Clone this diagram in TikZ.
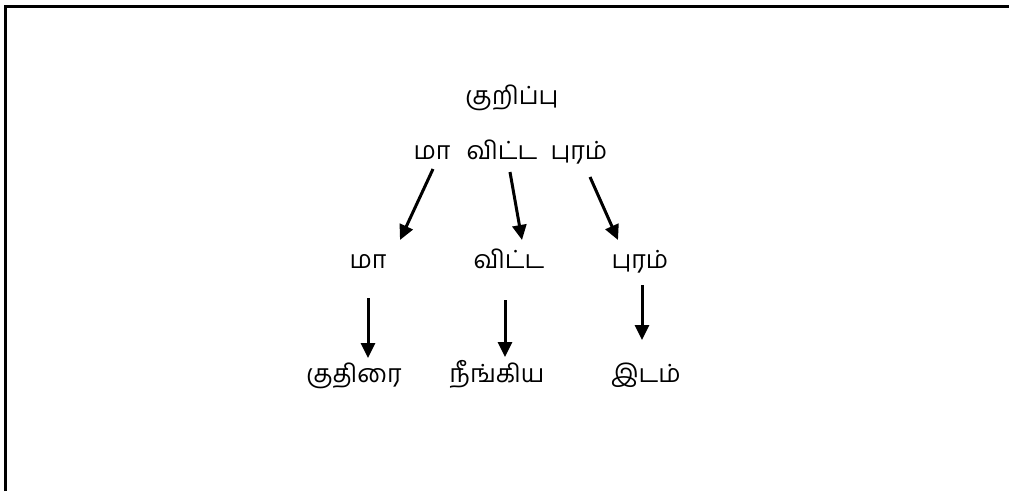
\documentclass[tikz,border=0pt]{standalone}
\usepackage{fontspec}
\newfontfamily\tamilfont[Script=Tamil]{Hind Madurai}
\usetikzlibrary{arrows.meta,calc}

\begin{document}
\begin{tikzpicture}
[x=1pt,y=-1pt,
word/.style ={anchor=base, inner sep=0pt, font=\tamilfont\fontsize{25}{30}\selectfont},
line/.style ={draw, line width=3pt, -{Triangle[length=15pt,width=14pt]}},
frame/.style ={draw, line width=3pt}]
\useasboundingbox (0,0) rectangle (1009,491);
\path [frame] (5,491) -- (5,6) -- (1009,6);
% row 1
\node [word] (head) at (512,104) {குறிப்பு};
% row 2 the three words together
\node [word] (w1) at (432,159) {மா};
\node [word] (w2) at (502,159) {விட்ட};
\node [word] (w3) at (579,159) {புரம்};
% row 3
\node [word] (m1) at (368,268) {மா};
\node [word] (m2) at (509,268) {விட்ட};
\node [word] (m3) at (640,268) {புரம்};
% row 4 meanings
\node [word] (r1) at (354,382) {குதிரை};
\node [word] (r2) at (497,382) {நீங்கிய};
\node [word] (r3) at (646,382) {இடம்};
\begin{scope}[every path/.style=line]
\path ($(w1.base)+(1,10)$) -- ($(m1.base)+(32,-28)$);
\path ($(w2.base)+(8,13)$) -- ($(m2.base)+(13,-28)$);
\path ($(w3.base)+(11,18)$) -- ($(m3.base)+(-22,-28)$);
\path ($(m1.base)+(0,30)$) -- ($(r1.base)+(14,-24)$);
\path ($(m2.base)+(-4,32)$) -- ($(r2.base)+(8,-25)$);
\path ($(m3.base)+(2,17)$) -- ($(r3.base)+(-4,-42)$);
\end{scope}
\end{tikzpicture}
\end{document}
